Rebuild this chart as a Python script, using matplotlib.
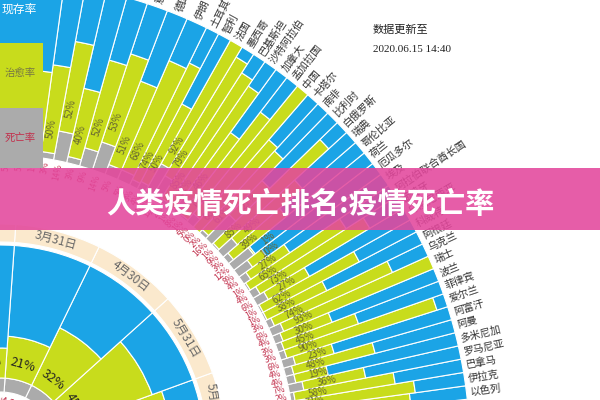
import matplotlib
matplotlib.use("Agg")
import matplotlib.pyplot as plt
from matplotlib.patches import Wedge, Rectangle
import numpy as np

plt.rcParams['font.family'] = ['Noto Sans CJK SC', 'DejaVu Sans']

countries = ["以色列", "伊拉克", "巴拿马", "罗马尼亚", "多米尼加", "阿曼", "阿富汗", "爱尔兰",
             "菲律宾", "波兰", "瑞士", "乌克兰", "阿根廷", "科威特", "印度尼西亚", "葡萄牙",
             "阿拉伯联合酋长国", "埃及", "厄瓜多尔", "荷兰", "哥伦比亚", "瑞典", "白俄罗斯", "比利时",
             "南非", "卡塔尔", "中国", "孟加拉国", "加拿大", "沙特阿拉伯", "巴基斯坦", "墨西哥",
             "法国", "智利", "土耳其", "伊朗", "德国", "意大利", "西班牙", "秘鲁",
             "英国", "印度", "俄罗斯", "巴西", "美国", "新加坡"]
recovered = [64, 71, 58, 36, 19, 48, 23, 90, 45, 30, 93, 74, 38, 62, 27, 73,
             65, 27, 10, 1, 39, 49, 85, 27, 61, 66, 94, 74, 46, 82, 85, 79,
             92, 50, 74, 68, 51, 53, 52, 40, 52, 50, 48, 45, 40, 60]
death = [3, 0, 2, 7, 4, 4, 6, 3, 3, 4, 6, 3, 1, 1, 6, 4,
         1, 4, 8, 12, 3, 9, 1, 16, 2, 0, 5, 1, 8, 1, 2, 12,
         16, 4, 3, 5, 5, 14, 9, 3, 14, 3, 1, 5, 5, 0]

dates = ["5月31日以后", "5月31日", "4月30日", "3月31日", "2月29日"]
date_rec = [50, 45, 32, 21, 15]
date_death = [6.0, 6.5, 7.2, 4.8, 3.0]

BLUE = "#1ba4e6"; GREEN = "#c8dc1c"; GREY = "#ababab"; RED = "#c2304c"; BEIGE = "#fbe9cd"

fig = plt.figure(figsize=(6, 4), dpi=100)
ax = fig.add_axes([0, 0, 1, 1])
ax.set_xlim(0, 600); ax.set_ylim(400, 0); ax.axis('off')
cx, cy = 0, 450

def wedge(r0, r1, a0, a1, color):
    ax.add_patch(Wedge((cx, cy), r1, -a1, -a0, width=r1 - r0, facecolor=color,
                       edgecolor='white', linewidth=0.8))

def pt(r, a):
    t = np.radians(a)
    return cx + r * np.cos(t), cy - r * np.sin(t)

R0, R1 = 295, 470
a0 = 6.2
for i, (name, rc, dt) in enumerate(zip(countries, recovered, death)):
    step = 1.65 if i < 35 else 2.6
    a1 = a0 + step
    L = R1 - R0
    rd = R0 + L * dt / 100 * 1.2
    rr = min(rd + L * rc / 100, R1)
    wedge(R0, rd, a0, a1, GREY)
    wedge(rd, rr, a0, a1, GREEN)
    if rr < R1:
        wedge(rr, R1, a0, a1, BLUE)
    am = (a0 + a1) / 2
    x, y = pt(R1 + 4, am)
    ax.text(x, y, name, rotation=am, rotation_mode='anchor', ha='left', va='center',
            fontsize=7.5, color='#333333', clip_on=True)
    x, y = pt(rd + 14, am)
    ax.text(x, y, f"{rc}%", rotation=am, rotation_mode='anchor', ha='left', va='center',
            fontsize=7, color='#666633', clip_on=True)
    x, y = pt(R0 - 3, am)
    ax.text(x, y, f"{dt}%", rotation=am, rotation_mode='anchor', ha='right', va='center',
            fontsize=6, color=RED, clip_on=True)
    a0 = a1

for j, (d, rc, dt) in enumerate(zip(dates, date_rec, date_death)):
    s0 = j * 22 - 2
    s1 = s0 + 22
    wedge(58, 72, s0, s1, GREY)
    rg = 72 + rc * 2.0
    wedge(72, rg, s0, s1, GREEN)
    wedge(rg, 205, s0, s1, BLUE)
    wedge(208, 226, s0, s1, BEIGE)
    am = (s0 + s1) / 2
    x, y = pt(217, am)
    ax.text(x, y, d, rotation=am - 90, ha='center', va='center', fontsize=8.5, color='#666666', clip_on=True)
    x, y = pt(88, am)
    ax.text(x, y, f"{rc}%", rotation=am - 90, ha='center', va='center', fontsize=9, color='#222222', clip_on=True)
    x, y = pt(47, am)
    ax.text(x, y, f"{dt}%", rotation=am - 90, ha='center', va='center', fontsize=7.5, color=RED, clip_on=True)

ax.add_patch(Rectangle((0, 0), 43, 43, facecolor=BLUE, edgecolor='none', zorder=5))
ax.add_patch(Rectangle((0, 43), 43, 65, facecolor=GREEN, edgecolor='none', zorder=5))
ax.add_patch(Rectangle((0, 108), 43, 60, facecolor=GREY, edgecolor='none', zorder=5))
ax.text(2, 9, "现存率", color='white', fontsize=8.5, va='center', zorder=6)
ax.text(5, 73, "治愈率", color='#777744', fontsize=7.5, va='center', zorder=6)
ax.text(5, 138, "死亡率", color=RED, fontsize=7.5, va='center', zorder=6)

ax.text(373, 30, "数据更新至", fontsize=8, color='#222222', va='center', family='Noto Sans CJK SC')
ax.text(373, 50, "2020.06.15 14:40", fontsize=8, color='#222222', va='center', family='Liberation Serif')

ax.add_patch(Rectangle((0, 168), 600, 62, facecolor='#e3479c', alpha=0.88, edgecolor='none', zorder=8))
ax.text(300, 204, "人类疫情死亡排名:疫情死亡率", fontsize=21, fontweight='bold', color='white',
        ha='center', va='center', zorder=9)

fig.savefig("out.png", dpi=100)
